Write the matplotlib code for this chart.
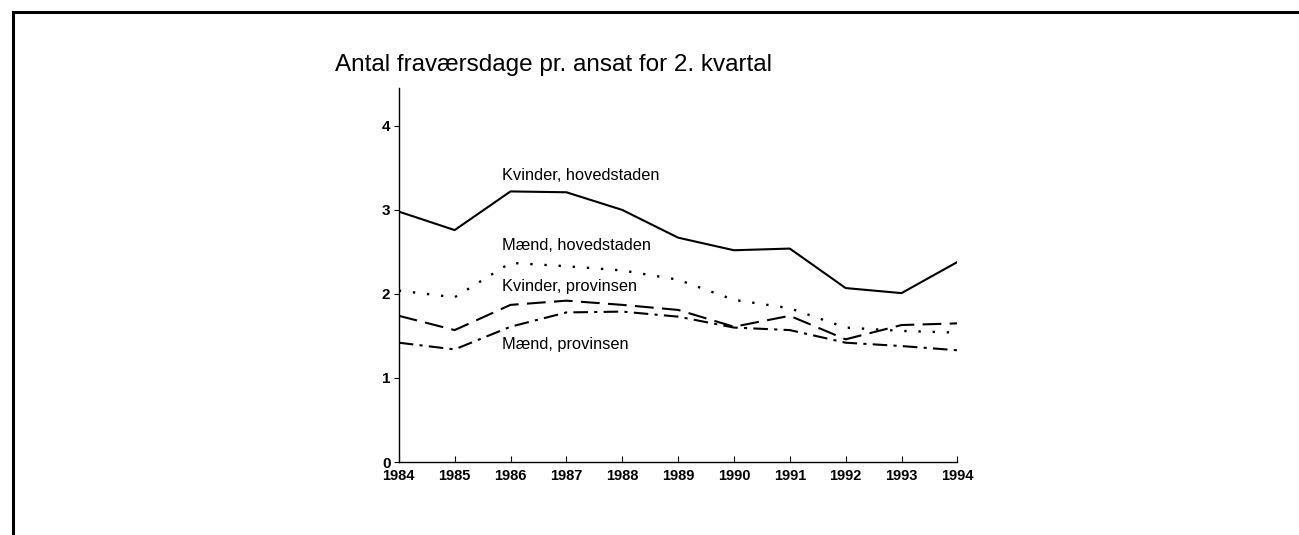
import matplotlib
matplotlib.use('Agg')
import matplotlib.pyplot as plt
from matplotlib.lines import Line2D

plt.rcParams['font.family'] = ['Liberation Sans', 'DejaVu Sans']

years = [1984, 1985, 1986, 1987, 1988, 1989, 1990, 1991, 1992, 1993, 1994]
kvinder_hoved = [2.98, 2.76, 3.22, 3.21, 3.00, 2.67, 2.52, 2.54, 2.07, 2.01, 2.38]
maend_hoved = [2.04, 1.96, 2.37, 2.33, 2.28, 2.17, 1.93, 1.83, 1.60, 1.56, 1.54]
kvinder_prov = [1.74, 1.57, 1.87, 1.92, 1.87, 1.81, 1.61, 1.74, 1.46, 1.63, 1.65]
maend_prov = [1.42, 1.34, 1.61, 1.78, 1.79, 1.73, 1.60, 1.57, 1.42, 1.38, 1.33]

labels = ['Kvinder, hovedstaden', 'Mænd, hovedstaden', 'Kvinder, provinsen', 'Mænd, provinsen']
# tekstens grundlinje i dataenheder
label_pos = [(1985.84, 3.36), (1985.84, 2.52), (1985.84, 2.03), (1985.84, 1.35)]

fig = plt.figure(figsize=(12.99, 5.35), dpi=100)
ax = fig.add_axes([0.307, 0.1364, 0.43, 0.699])

ax.plot(years, kvinder_hoved, color='black', lw=1.5, ls='-')
ax.plot(years, maend_hoved, color='black', lw=1.7, ls=(0, (1, 5)))
ax.plot(years, kvinder_prov, color='black', lw=1.5, ls=(0, (9, 4)))
ax.plot(years, maend_prov, color='black', lw=1.5, ls=(0, (7, 3, 1.5, 3)))

for txt, (x, y) in zip(labels, label_pos):
    ax.text(x, y, txt, fontsize=11.8, va='baseline', ha='left')

ax.set_xlim(1984, 1994)
ax.set_ylim(0, 4.45)
ax.set_xticks(years)
ax.set_yticks([0, 1, 2, 3, 4])
ax.tick_params(axis='x', direction='in', length=4, pad=5, labelsize=10.5)
ax.tick_params(axis='y', direction='out', length=3.5, pad=2.5, labelsize=11)
for lab in ax.get_xticklabels() + ax.get_yticklabels():
    lab.set_fontweight('bold')
ax.spines['top'].set_visible(False)
ax.spines['right'].set_visible(False)
ax.spines['left'].set_linewidth(1.0)
ax.spines['bottom'].set_linewidth(1.0)

fig.text(335 / 1299, 1 - 71 / 535, 'Antal fraværsdage pr. ansat for 2. kvartal',
         fontsize=17.5, va='baseline', ha='left')

# ramme
fig.add_artist(Line2D([13 / 1299, 1], [1 - 12 / 535, 1 - 12 / 535], color='black', lw=2.2,
                      transform=fig.transFigure))
fig.add_artist(Line2D([13 / 1299, 13 / 1299], [0, 1 - 12 / 535], color='black', lw=2.2,
                      transform=fig.transFigure))

fig.savefig('out.png', dpi=100)
